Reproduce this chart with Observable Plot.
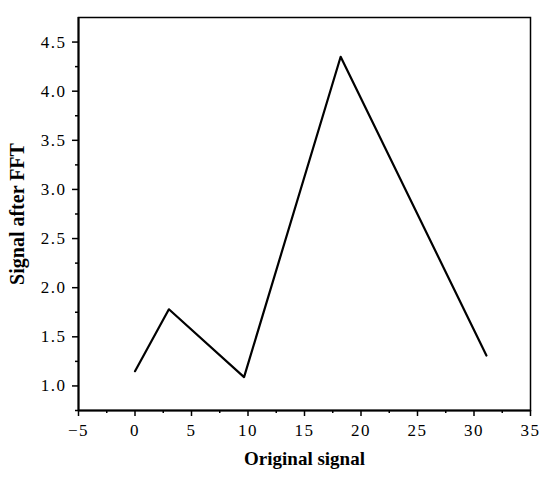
<!DOCTYPE html>
<html>
<head>
<meta charset="utf-8">
<script src="https://cdn.jsdelivr.net/npm/d3@7"></script>
<script src="https://cdn.jsdelivr.net/npm/@observablehq/plot@0.6"></script>
<style>
body { margin: 0; background: #fff; }
</style>
</head>
<body>
<div id="chart"></div>
<script>
const originalSignal = [0, 3, 9.65, 18.2, 31.1];
const fftSignal = [1.15, 1.78, 1.09, 4.35, 1.31];
const xTicks = [-5, 0, 5, 10, 15, 20, 25, 30, 35];
const xMinor = [-2.5, 2.5, 7.5, 12.5, 17.5, 22.5, 27.5, 32.5];
const yTicks = [1.0, 1.5, 2.0, 2.5, 3.0, 3.5, 4.0, 4.5];
const yMinor = [0.75, 1.25, 1.75, 2.25, 2.75, 3.25, 3.75, 4.25];
const xTitle = "Original signal";
const yTitle = "Signal after FFT";

const data = originalSignal.map((x, i) => ({x, y: fftSignal[i]}));
const font = "'Liberation Serif', 'DejaVu Serif', serif";

const chart = Plot.plot({
  width: 550,
  height: 478,
  marginLeft: 78,
  marginRight: 20,
  marginTop: 17,
  marginBottom: 68,
  style: {fontFamily: font, fontSize: "16px", color: "#000", background: "#fff"},
  x: {domain: [-5, 35]},
  y: {domain: [0.75, 4.75]},
  marks: [
    Plot.frame({stroke: "#000", strokeWidth: 1.5}),
    Plot.axisX({ticks: xTicks, tickSize: 6, tickPadding: 7, tickFormat: d => String(d).replace("-", "−"), label: null, strokeWidth: 1.5}),
    Plot.axisX({ticks: xMinor, tickSize: 3, tickFormat: null, label: null, text: null, strokeWidth: 1.5}),
    Plot.axisY({ticks: yTicks, tickSize: 6, tickPadding: 6, tickFormat: d => d.toFixed(1), label: null, strokeWidth: 1.5}),
    Plot.axisY({ticks: yMinor, tickSize: 3, tickFormat: null, label: null, text: null, strokeWidth: 1.5}),
    Plot.ruleX([-5], {stroke: "#000", strokeWidth: 2}),
    Plot.ruleY([0.75], {stroke: "#000", strokeWidth: 2}),
    Plot.line(data, {x: "x", y: "y", stroke: "#000", strokeWidth: 2.2}),
    Plot.text([xTitle], {frameAnchor: "bottom", dy: 54, fontWeight: "bold", fontSize: 19, fontFamily: font}),
    Plot.text([yTitle], {frameAnchor: "left", dx: -61, rotate: -90, textAnchor: "middle", fontWeight: "bold", fontSize: 20, fontFamily: font})
  ]
});
// style tick labels: serif, larger, spaced like the reference
d3.select(chart).selectAll("g[aria-label*='tick label']")
  .attr("font-family", font)
  .attr("font-size", 17)
  .attr("font-variant", null)
  .style("letter-spacing", "1.5px");
document.getElementById("chart").append(chart);
</script>
</body>
</html>
